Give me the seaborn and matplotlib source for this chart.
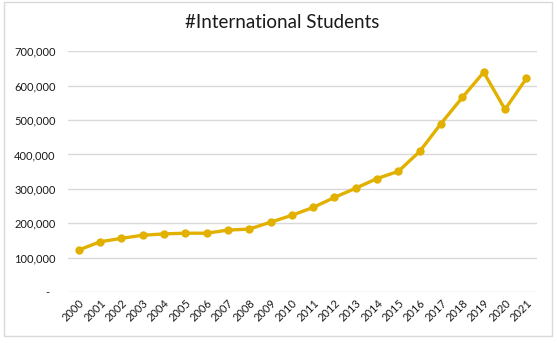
import matplotlib
matplotlib.use("Agg")
import matplotlib.pyplot as plt
import seaborn as sns
import pandas as pd
from matplotlib.ticker import FuncFormatter
from matplotlib.patches import Rectangle

years = [str(y) for y in range(2000, 2022)]
students = [122000, 146000, 156000, 165000, 169000, 171000, 171000, 180000,
            183000, 203000, 223000, 246000, 275000, 302000, 330000, 351000,
            409000, 490000, 566000, 639000, 531000, 621000]
title = "#International Students"
yticks = [0, 100000, 200000, 300000, 400000, 500000, 600000, 700000]

df = pd.DataFrame({"year": years, "students": students})
df["pos"] = range(len(years))

sns.set_style("white")
plt.rcParams["font.family"] = ["Lato", "DejaVu Sans"]

fig = plt.figure(figsize=(5.57, 3.43), dpi=100)
ax = fig.add_axes([68 / 557, 1 - 292 / 343, (537 - 68) / 557, (292 - 51.3) / 343])

color = "#E2B100"
sns.lineplot(data=df, x="pos", y="students", ax=ax, color=color, linewidth=2.4,
             marker="o", markersize=6, markeredgewidth=0, zorder=3)

ax.set_xlim(-0.5, len(years) - 0.5)
ax.set_ylim(0, 700000)
ax.set_yticks(yticks)
ax.yaxis.set_major_formatter(FuncFormatter(lambda v, p: "-  " if v == 0 else f"{int(v):,}"))
ax.set_xticks(df["pos"])
ax.set_xticklabels(years, rotation=45, ha="right", rotation_mode="anchor")
ax.tick_params(axis="both", length=0, labelsize=8, colors="#1a1a1a")
ax.tick_params(axis="y", pad=9)
ax.tick_params(axis="x", pad=4)
ax.grid(axis="y", color="#d9d9d9", linewidth=1)
ax.set_axisbelow(True)
for s in ax.spines.values():
    s.set_visible(False)
ax.set_xlabel("")
ax.set_ylabel("")

fig.text(282 / 557, 1 - 22 / 343, title, ha="center", va="center", fontsize=13.5, color="#1a1a1a")

fig.patches.append(Rectangle((4 / 557, 1 - 336 / 343), (552 - 4) / 557, (336 - 2) / 343,
                             transform=fig.transFigure, fill=False, edgecolor="#d9d9d9",
                             linewidth=1))

fig.savefig("out.png", dpi=100)
